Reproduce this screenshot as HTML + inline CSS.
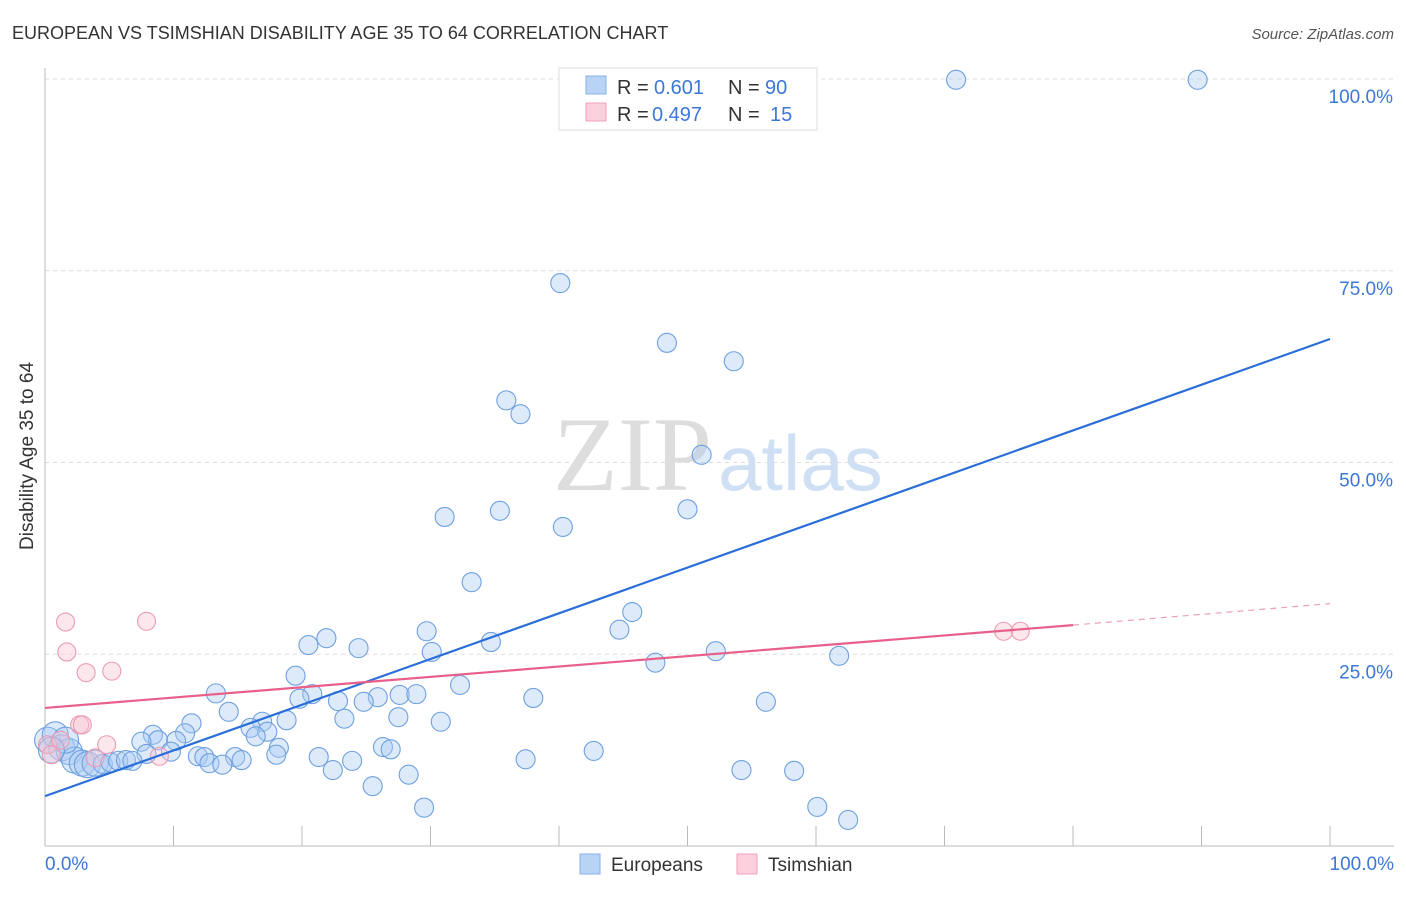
<!DOCTYPE html>
<html><head><meta charset="utf-8"><style>
body{margin:0;background:#fff;font-family:"Liberation Sans",sans-serif}
</style></head><body>
<svg width="1406" height="892" xmlns="http://www.w3.org/2000/svg">
<text x="12" y="39" font-size="18" fill="#333">EUROPEAN VS TSIMSHIAN DISABILITY AGE 35 TO 64 CORRELATION CHART</text>
<text x="1394" y="39" font-size="15" fill="#555" font-style="italic" text-anchor="end">Source: ZipAtlas.com</text>
<text x="712" y="490" font-size="106" fill="#ddd" font-family="Liberation Serif" text-anchor="end">ZIP</text>
<text x="718" y="490" font-size="78" fill="#cfe0f5">atlas</text>
<g id="grid"></g>
<line x1="45" y1="68" x2="45" y2="846" stroke="#bbb"/>
<line x1="45" y1="846" x2="1394" y2="846" stroke="#bbb"/>
<text x="33" y="456" font-size="19" fill="#333" text-anchor="middle" transform="rotate(-90 33 456)">Disability Age 35 to 64</text>
<text x="45" y="870" font-size="19" fill="#3b78d8">0.0%</text>
<text x="1394" y="870" font-size="19" fill="#3b78d8" text-anchor="end">100.0%</text>
<g id="marks"></g>
<rect x="559" y="68" width="258" height="62" fill="#fff" stroke="#ddd"/>
<rect x="586" y="76" width="20" height="18" fill="#b8d3f3" stroke="#8ab2e8"/>
<rect x="586" y="103" width="20" height="18" fill="#fbcfdb" stroke="#f0a0b8"/>
<g font-size="20" fill="#333">
<text x="617" y="94">R =</text><text x="654" y="94" fill="#3b78d8">0.601</text><text x="728" y="94">N =</text><text x="765" y="94" fill="#3b78d8">90</text></g>
<g font-size="20" fill="#333">
<text x="617" y="121">R =</text><text x="652" y="121" fill="#3b78d8">0.497</text><text x="728" y="121">N =</text><text x="770" y="121" fill="#3b78d8">15</text></g>
<rect x="580" y="854" width="20" height="20" fill="#b8d3f3" stroke="#8ab2e8"/>
<text x="611" y="871" font-size="19" fill="#333">Europeans</text>
<rect x="737" y="854" width="20" height="20" fill="#fbcfdb" stroke="#f0a0b8"/>
<text x="768" y="871" font-size="19" fill="#333">Tsimshian</text>
</svg>
<script>
const yTicks=[25,50,75,100];
const yTickLabels=["25.0%","50.0%","75.0%","100.0%"];
const xTicks=[10,20,30,40,50,60,70,80,90,100];
const euroX=[70.9,89.7,40.1,48.4,53.6,35.9,37.0,51.1,31.1,35.4,40.3,50.0,33.2,45.7,44.7,29.7,21.9,20.5,24.4,30.1,34.7,52.2,61.8,47.5,19.5,32.3,13.3,20.8,19.8,25.9,27.6,28.9,22.8,24.8,38.0,56.1,14.3,27.5,23.3,18.8,16.9,30.8,11.4,16.0,17.3,16.4,10.9,8.4,8.8,7.5,10.2,18.2,26.3,26.9,42.7,9.8,7.9,11.9,12.4,14.8,18.0,21.3,15.3,12.8,13.8,23.9,37.4,22.4,28.3,54.2,58.3,25.5,29.5,60.1,62.5,0.2,0.8,1.3,1.9,2.3,2.9,3.3,3.9,4.5,5.1,5.7,6.3,6.8,1.6,0.5];
const euroY=[99.9,99.9,73.4,65.6,63.2,58.1,56.3,51.0,42.9,43.7,41.6,43.9,34.4,30.5,28.2,28.0,27.1,26.2,25.8,25.3,26.6,25.4,24.8,23.9,22.2,21.0,19.9,19.8,19.2,19.4,19.7,19.8,18.9,18.8,19.3,18.8,17.5,16.8,16.6,16.4,16.2,16.2,16.0,15.4,14.9,14.3,14.7,14.5,13.8,13.6,13.7,12.8,12.9,12.6,12.4,12.3,12.0,11.7,11.6,11.6,11.9,11.6,11.2,10.8,10.6,11.1,11.3,9.9,9.3,9.9,9.8,7.8,5.0,5.1,3.4,13.8,14.5,12.8,12.3,11.2,10.8,10.6,10.8,10.7,10.9,11.1,11.2,11.1,13.8,12.5];
const tsimX=[1.6,7.9,1.7,3.2,5.2,2.7,2.9,0.2,1.2,3.9,4.8,8.9,74.6,75.9,0.5];
const tsimY=[29.2,29.3,25.3,22.6,22.8,15.8,15.8,13.2,13.8,11.5,13.2,11.7,28.0,28.0,11.9];
const euroLine=[[0,6.5],[100,66.1]];
const tsimLine=[[0,18.0],[80,28.8]];
const tsimDash=[[80,28.8],[100,31.6]];
const NS="http://www.w3.org/2000/svg";
const xs=v=>45+v*12.85, ys=v=>846-v*7.67;
function mk(t,a,p){const e=document.createElementNS(NS,t);for(const k in a)e.setAttribute(k,a[k]);p.appendChild(e);return e;}
const g=document.getElementById('grid'),m=document.getElementById('marks');
yTicks.forEach((v,i)=>{
 const l=mk('line',{x1:45,x2:1394,y1:ys(v),y2:ys(v),stroke:'#ddd','stroke-dasharray':'4,4'},g);
 
 
 const t=mk('text',{x:1393,y:ys(v)+24,'font-size':19,fill:'#3b78d8','text-anchor':'end'},g);
 t.textContent=yTickLabels[i];
 
 
});
xTicks.forEach(v=>{
 const l=mk('line',{x1:xs(v),x2:xs(v),y1:826,y2:846,stroke:'#bbb'},g);
 
 
});
euroX.forEach((x,i)=>{
 const big=x<4;
 const c=mk('circle',{cx:xs(x),cy:ys(euroY[i]),r:big?13:9.5,fill:'rgba(170,202,242,0.4)',stroke:'#6fa0e0','stroke-width':1.1},m);
 
 
});
tsimX.forEach((x,i)=>{
 const c=mk('circle',{cx:xs(x),cy:ys(tsimY[i]),r:9,fill:'rgba(248,195,210,0.4)',stroke:'#ec9ab2','stroke-width':1.1},m);
 
 
});
const bl=mk('line',{x1:xs(euroLine[0][0]),y1:ys(euroLine[0][1]),x2:xs(euroLine[1][0]),y2:ys(euroLine[1][1]),stroke:'#2a6fd9','stroke-width':2.2},m);


const pl=mk('line',{x1:xs(tsimLine[0][0]),y1:ys(tsimLine[0][1]),x2:xs(tsimLine[1][0]),y2:ys(tsimLine[1][1]),stroke:'#e8608a','stroke-width':2.2},m);


const pd=mk('line',{x1:xs(tsimDash[0][0]),y1:ys(tsimDash[0][1]),x2:xs(tsimDash[1][0]),y2:ys(tsimDash[1][1]),stroke:'#eaa0b8','stroke-width':1.2,'stroke-dasharray':'6,5'},m);


</script>
</body></html>
